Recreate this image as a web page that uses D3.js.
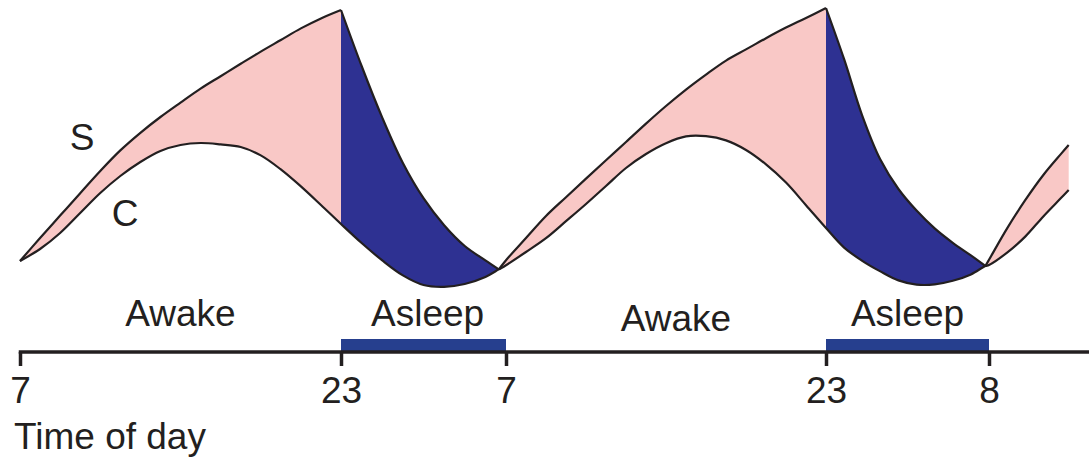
<!DOCTYPE html>
<html><head><meta charset="utf-8">
<script src="https://cdn.jsdelivr.net/npm/d3@7"></script>
<style>
html,body{margin:0;padding:0;background:#fff;}
svg{display:block;}
text{font-family:"Liberation Sans",Arial,Helvetica,sans-serif;fill:#231f20;}
</style></head><body>
<svg id="chart" width="1089" height="457"></svg>
<script>
// ---- data (hours since 07:00 of day 1) ----
const hours = [0,1,2,3,4,5,6,7,8,9,10,11,12,13,14,15,16,17,18,19,20,21,22,23,23.65,
  24,25,26,27,28,29,30,31,32,33,34,35,36,37,38,39,40,41,42,43,44,45,46,47,48,48.8,
  49,50,51,52,53,53.4];
// Process S (homeostatic sleep pressure)
const sValues = [14.5,26,37.2,48.4,59.5,69.8,78.6,86.5,93.7,100.7,106.9,113.1,119.2,125,130.8,135.8,140,
  112,86.2,63.5,45.9,32.4,22,14.8,10.3,
  14.9,26,37,46.4,55.7,64.9,74,83.2,92,100.2,107.7,114.7,120.3,125.9,131.2,136,141,
  115.4,87.2,65.2,50.5,39.7,30.8,23.6,17.3,12,
  15.1,30.8,44.9,57.5,68.3,72.5];
// Process C (circadian)
const cValues = [14.5,20.5,28.5,38.5,48.5,57,64,69.5,72.5,73.5,72.8,71.5,67.3,60.3,51.8,42.5,33,
  23.5,14.8,7.3,2.5,1.6,3,6.5,10.3,
  12.4,19,25.9,34.4,43,52,61,68,73.4,76.8,76.9,74.8,70,62.8,53.7,42.4,31,
  21.2,14.6,9.3,4.8,2.7,2.8,4.6,7.8,12,
  12.5,18.7,26.7,36.8,46.2,50];
const phaseBreaks = [0, 16, 23.65, 40, 48.8, 53.4];
const phaseStates = ["wake","sleep","wake","sleep","wake"];
const sleepBars = [[16,24],[40,49]];
const tickHours = [0,16,24,40,49];
const tickLabels = ["7","23","7","23","8"];
const periodLabels = ["Awake","Asleep","Awake","Asleep"];
const periodHours = [8, 20.2, 32.5, 44.5];
const curveNames = ["S","C"];
const axisTitle = "Time of day";

// ---- layout ----
const W = 1089, H = 457;
const axisY = 352;
const fontSize = 37;
const colors = {wake:"#f9c8c6", sleep:"#2e3192", bar:"#263f8e", ink:"#231f20"};
const periodBaseline = [326, 326, 331, 326];
const curveLabelPos = [{x:82, y:150}, {x:125, y:226}];

const svg = d3.select("#chart");
const x = d3.scaleLinear().domain(tickHours).range([20, 341, 506, 826, 989]);
const y = d3.scaleLinear().domain([0, 140]).range([290, 10]);

const pts = hours.map((h, i) => ({h, s: sValues[i], c: cValues[i]}));
const curve = d3.curveCatmullRom.alpha(0.5);

const area = d3.area().x(d => x(d.h)).y0(d => y(d.c)).y1(d => y(d.s)).curve(curve);
const sLine = d3.line().x(d => x(d.h)).y(d => y(d.s)).curve(curve);
const cLine = d3.line().x(d => x(d.h)).y(d => y(d.c)).curve(curve);

const segments = phaseStates.map((state, i) => ({
  state,
  pts: pts.filter(p => p.h >= phaseBreaks[i] && p.h <= phaseBreaks[i + 1])
}));

svg.append("g").selectAll("path").data(segments).join("path")
  .attr("d", d => area(d.pts))
  .attr("fill", d => colors[d.state])
  .attr("stroke", "none");

svg.append("path").datum(pts).attr("d", cLine)
  .attr("fill", "none").attr("stroke", colors.ink).attr("stroke-width", 2.2);

svg.append("g").selectAll("path").data(segments).join("path")
  .attr("d", d => sLine(d.pts))
  .attr("fill", "none").attr("stroke", colors.ink).attr("stroke-width", 2.2)
  .attr("stroke-linejoin", "miter");

// curve labels
svg.append("g").selectAll("text").data(curveNames).join("text")
  .attr("x", (d, i) => curveLabelPos[i].x)
  .attr("y", (d, i) => curveLabelPos[i].y)
  .attr("text-anchor", "middle")
  .attr("font-size", fontSize)
  .text(d => d);

// sleep bars
svg.append("g").selectAll("rect").data(sleepBars).join("rect")
  .attr("x", d => x(d[0]))
  .attr("width", d => x(d[1]) - x(d[0]))
  .attr("y", axisY - 13)
  .attr("height", 13)
  .attr("fill", colors.bar);

// period labels
svg.append("g").selectAll("text").data(periodLabels).join("text")
  .attr("x", (d, i) => x(periodHours[i]))
  .attr("y", (d, i) => periodBaseline[i])
  .attr("text-anchor", "middle")
  .attr("font-size", fontSize)
  .text(d => d);

// axis
const axis = d3.axisBottom(x).tickValues(tickHours)
  .tickFormat((d, i) => tickLabels[i]).tickSizeInner(14).tickSizeOuter(0);
const ag = svg.append("g").attr("transform", `translate(0,${axisY})`).call(axis);
ag.select(".domain").remove();
ag.insert("line", ":first-child")
  .attr("x1", x(0) - 1.25).attr("x2", W)
  .attr("y1", 0).attr("y2", 0)
  .attr("stroke", colors.ink).attr("stroke-width", 3.5);
ag.selectAll(".tick line").attr("stroke", colors.ink).attr("stroke-width", 3.5);
ag.selectAll(".tick text")
  .attr("y", 51).attr("dy", 0)
  .attr("font-size", fontSize)
  .attr("font-family", '"Liberation Sans",Arial,Helvetica,sans-serif')
  .attr("fill", colors.ink);

svg.append("text")
  .attr("x", 14).attr("y", 449)
  .attr("font-size", fontSize)
  .text(axisTitle);
</script>
</body></html>
